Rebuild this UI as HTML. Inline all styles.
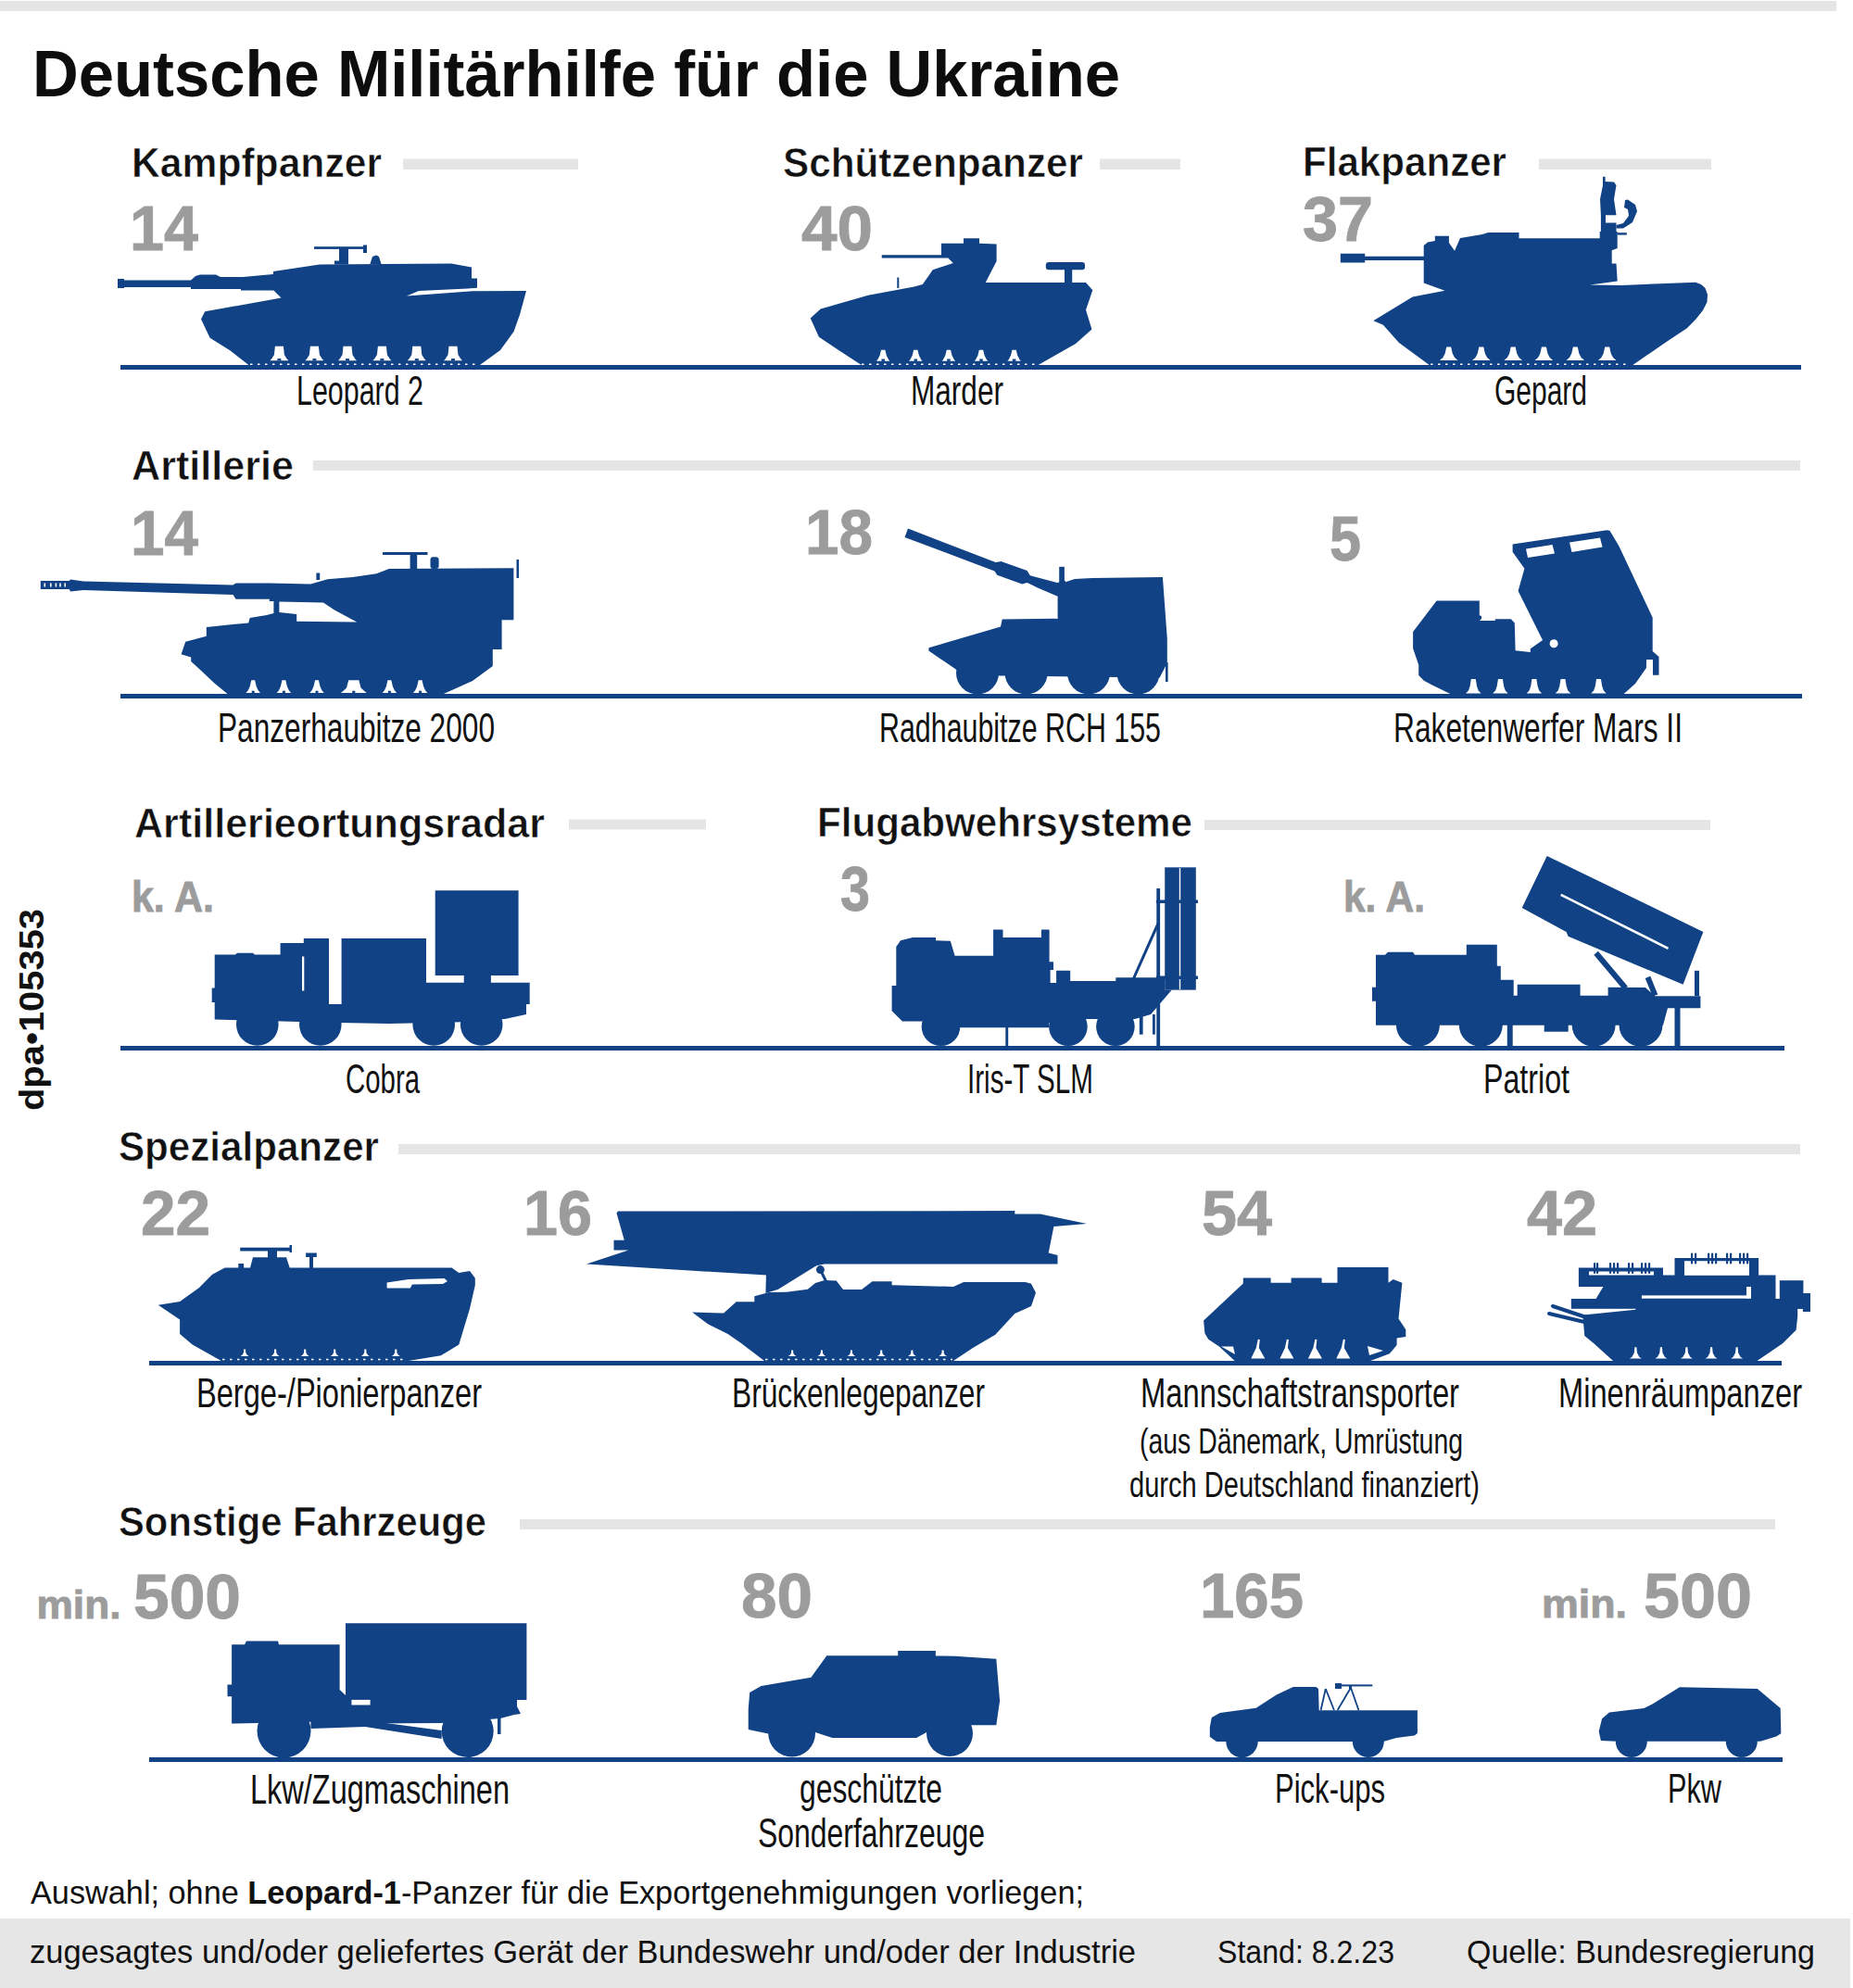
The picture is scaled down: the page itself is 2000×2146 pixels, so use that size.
<!DOCTYPE html>
<html><head><meta charset="utf-8">
<style>
html,body{margin:0;padding:0;background:#fff;}
body{width:2000px;height:2146px;overflow:hidden;}
svg{display:block;}
text{font-family:"Liberation Sans",sans-serif;}
.h{font-weight:bold;font-size:44px;fill:#111;stroke:#fff;stroke-width:0.6px;}
.n{font-weight:bold;font-size:69px;fill:#9c9c9c;stroke:#9c9c9c;stroke-width:0.9px;}
.l{font-size:44px;fill:#111;}
.f{font-size:35px;fill:#111;}
</style></head>
<body>
<svg width="2000" height="2146" viewBox="0 0 2000 2146">
<!-- top bar & footer band -->
<rect x="0" y="1" width="1982" height="11" fill="#e5e5e5"/>
<rect x="0" y="2071" width="1997" height="75" fill="#e6e6e6"/>

<!-- title -->
<text x="35" y="104" font-size="71" font-weight="bold" fill="#0d0d0d" textLength="1174" lengthAdjust="spacingAndGlyphs">Deutsche Militärhilfe für die Ukraine</text>

<!-- section headers -->
<text class="h" x="142" y="191" textLength="270" lengthAdjust="spacingAndGlyphs">Kampfpanzer</text>
<rect x="435" y="171.5" width="189" height="11.5" fill="#e5e5e5"/>
<text class="h" x="845" y="191" textLength="324" lengthAdjust="spacingAndGlyphs">Schützenpanzer</text>
<rect x="1187" y="171.5" width="87" height="11.5" fill="#e5e5e5"/>
<text class="h" x="1406" y="190" textLength="220" lengthAdjust="spacingAndGlyphs">Flakpanzer</text>
<rect x="1661" y="171.5" width="186" height="11.5" fill="#e5e5e5"/>

<text class="h" x="142" y="518" textLength="175" lengthAdjust="spacingAndGlyphs">Artillerie</text>
<rect x="338" y="497" width="1605" height="11" fill="#e5e5e5"/>

<text class="h" x="145" y="904" textLength="443" lengthAdjust="spacingAndGlyphs">Artillerieortungsradar</text>
<rect x="614" y="884.5" width="148" height="11" fill="#e5e5e5"/>
<text class="h" x="882" y="903" textLength="405" lengthAdjust="spacingAndGlyphs">Flugabwehrsysteme</text>
<rect x="1300" y="885" width="546" height="11" fill="#e5e5e5"/>

<text class="h" x="128" y="1253" textLength="281" lengthAdjust="spacingAndGlyphs">Spezialpanzer</text>
<rect x="430" y="1235" width="1513" height="11" fill="#e5e5e5"/>

<text class="h" x="128" y="1658" textLength="397" lengthAdjust="spacingAndGlyphs">Sonstige Fahrzeuge</text>
<rect x="561" y="1640" width="1355" height="11" fill="#e5e5e5"/>

<!-- numbers -->
<text class="n" x="140" y="270" textLength="74" lengthAdjust="spacingAndGlyphs">14</text>
<text class="n" x="865" y="270" textLength="77" lengthAdjust="spacingAndGlyphs">40</text>
<text class="n" x="1406" y="260" textLength="76" lengthAdjust="spacingAndGlyphs">37</text>
<text class="n" x="141" y="599" textLength="73" lengthAdjust="spacingAndGlyphs">14</text>
<text class="n" x="869" y="598" textLength="73" lengthAdjust="spacingAndGlyphs">18</text>
<text class="n" x="1435" y="605" textLength="34" lengthAdjust="spacingAndGlyphs">5</text>
<text class="n" x="142" y="984" style="font-size:47px" textLength="89" lengthAdjust="spacingAndGlyphs">k. A.</text>
<text class="n" x="907" y="983" textLength="32" lengthAdjust="spacingAndGlyphs">3</text>
<text class="n" x="1450" y="984" style="font-size:47px" textLength="88" lengthAdjust="spacingAndGlyphs">k. A.</text>
<text class="n" x="152" y="1333" textLength="75" lengthAdjust="spacingAndGlyphs">22</text>
<text class="n" x="565" y="1333" textLength="74" lengthAdjust="spacingAndGlyphs">16</text>
<text class="n" x="1297" y="1333" textLength="76" lengthAdjust="spacingAndGlyphs">54</text>
<text class="n" x="1648" y="1333" textLength="76" lengthAdjust="spacingAndGlyphs">42</text>
<text class="n" x="39.5" y="1747" style="font-size:43px" textLength="91" lengthAdjust="spacingAndGlyphs">min.</text>
<text class="n" x="144" y="1747" textLength="116" lengthAdjust="spacingAndGlyphs">500</text>
<text class="n" x="800" y="1746" textLength="77" lengthAdjust="spacingAndGlyphs">80</text>
<text class="n" x="1295" y="1746" textLength="112" lengthAdjust="spacingAndGlyphs">165</text>
<text class="n" x="1664" y="1746" style="font-size:43px" textLength="92" lengthAdjust="spacingAndGlyphs">min.</text>
<text class="n" x="1774" y="1746" textLength="117" lengthAdjust="spacingAndGlyphs">500</text>

<!-- labels -->
<text class="l" x="320" y="437" textLength="137" lengthAdjust="spacingAndGlyphs">Leopard 2</text>
<text class="l" x="983" y="437" textLength="100" lengthAdjust="spacingAndGlyphs">Marder</text>
<text class="l" x="1613" y="437" textLength="100" lengthAdjust="spacingAndGlyphs">Gepard</text>
<text class="l" x="235" y="801" textLength="299" lengthAdjust="spacingAndGlyphs">Panzerhaubitze 2000</text>
<text class="l" x="949" y="801" textLength="304" lengthAdjust="spacingAndGlyphs">Radhaubitze RCH 155</text>
<text class="l" x="1504" y="801" textLength="312" lengthAdjust="spacingAndGlyphs">Raketenwerfer Mars II</text>
<text class="l" x="373" y="1180" textLength="80" lengthAdjust="spacingAndGlyphs">Cobra</text>
<text class="l" x="1044" y="1180" textLength="136" lengthAdjust="spacingAndGlyphs">Iris-T SLM</text>
<text class="l" x="1601" y="1180" textLength="93" lengthAdjust="spacingAndGlyphs">Patriot</text>
<text class="l" x="212" y="1519" textLength="308" lengthAdjust="spacingAndGlyphs">Berge-/Pionierpanzer</text>
<text class="l" x="790" y="1519" textLength="273" lengthAdjust="spacingAndGlyphs">Brückenlegepanzer</text>
<text class="l" x="1231" y="1519" textLength="344" lengthAdjust="spacingAndGlyphs">Mannschaftstransporter</text>
<text class="l" x="1230" y="1569" style="font-size:39px" textLength="349" lengthAdjust="spacingAndGlyphs">(aus Dänemark, Umrüstung</text>
<text class="l" x="1219" y="1616" style="font-size:39px" textLength="378" lengthAdjust="spacingAndGlyphs">durch Deutschland finanziert)</text>
<text class="l" x="1682" y="1519" textLength="263" lengthAdjust="spacingAndGlyphs">Minenräumpanzer</text>
<text class="l" x="270" y="1947" textLength="280" lengthAdjust="spacingAndGlyphs">Lkw/Zugmaschinen</text>
<text class="l" x="863" y="1946" textLength="154" lengthAdjust="spacingAndGlyphs">geschützte</text>
<text class="l" x="818" y="1994" textLength="245" lengthAdjust="spacingAndGlyphs">Sonderfahrzeuge</text>
<text class="l" x="1376" y="1946" textLength="119" lengthAdjust="spacingAndGlyphs">Pick-ups</text>
<text class="l" x="1800" y="1946" textLength="58" lengthAdjust="spacingAndGlyphs">Pkw</text>

<!-- footer -->
<text class="f" x="33" y="2055" textLength="1137" lengthAdjust="spacingAndGlyphs">Auswahl; ohne <tspan font-weight="bold">Leopard-1</tspan>-Panzer für die Exportgenehmigungen vorliegen;</text>
<text class="f" x="32" y="2119" textLength="1194" lengthAdjust="spacingAndGlyphs">zugesagtes und/oder geliefertes Gerät der Bundeswehr und/oder der Industrie</text>
<text class="f" x="1314" y="2119" textLength="191" lengthAdjust="spacingAndGlyphs">Stand: 8.2.23</text>
<text class="f" x="1583" y="2119" textLength="376" lengthAdjust="spacingAndGlyphs">Quelle: Bundesregierung</text>

<!-- dpa vertical -->
<text transform="translate(46.5,1199) rotate(-90)" font-size="36" font-weight="bold" fill="#111" textLength="218" lengthAdjust="spacingAndGlyphs">dpa•105353</text>

<!-- ground lines -->
<g fill="#114285">
<rect x="130" y="394" width="1814" height="5"/>
<rect x="130" y="749" width="1815" height="5"/>
<rect x="130" y="1129" width="1796" height="5"/>
<rect x="161" y="1469" width="1762" height="5"/>
<rect x="161" y="1897" width="1763" height="5"/>
</g>

<!-- vehicles -->
<g fill="#114285">
<path d="M127,301 L134,301 L134,302.5 L206,302.5 L211,298 L216,296.5 L233,296.5 L238,299 L262,299 L295,296 L295,293 L345,285.5 L487,284.4 L509,288.5 L509,300.6 L515,300.6 L515,310.7 L505,311.5 L452,314 L439,319.5 L510,314.2 L568,314 L561,339.7 L554.5,358 L540,378 L518,394 L268.4,394 L248.2,378.2 L226.6,364.7 L217,344.4 L221.2,336.3 L303.5,321.5 L295.4,313.4 L260,313.4 L260,312 L206,312 L206,310 L134,310 L134,311 L127,311 Z"/>
<rect x="339" y="266.2" width="56" height="2.7"/>
<rect x="392" y="264.5" width="4" height="8.5"/>
<rect x="366" y="268" width="10" height="17"/>
<rect x="361" y="281.5" width="15" height="4"/>
<path d="M399.4,285 L402,277 L406,275.6 L409,277 L411.5,285 Z"/>
<path d="M296.9,373.7 L295.9,383.06 L293.4,386.96 L291.4,389.3 L311.4,389.3 L309.4,386.96 L306.9,383.06 L305.9,373.7 Z" fill="#fff"/>
<rect x="299.4" y="387.1" width="4" height="2.4"/>
<path d="M334.9,373.7 L333.9,383.06 L331.4,386.96 L329.4,389.3 L349.4,389.3 L347.4,386.96 L344.9,383.06 L343.9,373.7 Z" fill="#fff"/>
<rect x="337.4" y="387.1" width="4" height="2.4"/>
<path d="M370.5,373.7 L369.5,383.06 L367,386.96 L365,389.3 L385,389.3 L383,386.96 L380.5,383.06 L379.5,373.7 Z" fill="#fff"/>
<rect x="373" y="387.1" width="4" height="2.4"/>
<path d="M407.9,373.7 L406.9,383.06 L404.4,386.96 L402.4,389.3 L422.4,389.3 L420.4,386.96 L417.9,383.06 L416.9,373.7 Z" fill="#fff"/>
<rect x="410.4" y="387.1" width="4" height="2.4"/>
<path d="M445.3,373.7 L444.3,383.06 L441.8,386.96 L439.8,389.3 L459.8,389.3 L457.8,386.96 L455.3,383.06 L454.3,373.7 Z" fill="#fff"/>
<rect x="447.8" y="387.1" width="4" height="2.4"/>
<path d="M484.5,373.7 L483.5,383.06 L481,386.96 L479,389.3 L499,389.3 L497,386.96 L494.5,383.06 L493.5,373.7 Z" fill="#fff"/>
<rect x="487" y="387.1" width="4" height="2.4"/>
<line x1="270" y1="393.3" x2="516" y2="393.3" stroke="#fff" stroke-width="1.6" stroke-dasharray="2.5 5.5"/>
<path d="M951.7,275.3 L1016,275.3 L1016,262.8 L1040,262.8 L1040,257.3 L1057,257.3 L1057,262.8 L1075.6,263.5 L1075.6,282 L1063.7,305 L1172,305 L1179.3,313.3 L1172,334.4 L1178.4,355.5 L1161,371 L1120.6,394 L929.7,394 L905.9,378.4 L883.9,363.8 L874.7,343.6 L885.7,333.5 L937,318.8 L986.6,309.6 L995.8,306.9 L1006.8,291.3 L1028.8,284 L1023.3,278.4 L951.7,278.4 Z"/>
<rect x="968.3" y="299.5" width="2" height="11.5"/>
<rect x="1128.8" y="283" width="42.2" height="8.3" rx="3"/>
<rect x="1149" y="290" width="8.2" height="16"/>
<path d="M951.025,377.8 L949.575,383.75 L947.4,387.915 L945.95,389.7 L960.45,389.7 L959,387.915 L956.825,383.75 L955.375,377.8 Z" fill="#fff"/>
<rect x="951.45" y="387.5" width="3.5" height="2.4"/>
<path d="M986.125,377.8 L984.675,383.75 L982.5,387.915 L981.05,389.7 L995.55,389.7 L994.1,387.915 L991.925,383.75 L990.475,377.8 Z" fill="#fff"/>
<rect x="986.55" y="387.5" width="3.5" height="2.4"/>
<path d="M1021.73,377.8 L1020.27,383.75 L1018.1,387.915 L1016.65,389.7 L1031.15,389.7 L1029.7,387.915 L1027.53,383.75 L1026.08,377.8 Z" fill="#fff"/>
<rect x="1022.15" y="387.5" width="3.5" height="2.4"/>
<path d="M1056.83,377.8 L1055.38,383.75 L1053.2,387.915 L1051.75,389.7 L1066.25,389.7 L1064.8,387.915 L1062.62,383.75 L1061.17,377.8 Z" fill="#fff"/>
<rect x="1057.25" y="387.5" width="3.5" height="2.4"/>
<path d="M1092.42,377.8 L1090.97,383.75 L1088.8,387.915 L1087.35,389.7 L1101.85,389.7 L1100.4,387.915 L1098.22,383.75 L1096.77,377.8 Z" fill="#fff"/>
<rect x="1092.85" y="387.5" width="3.5" height="2.4"/>
<line x1="930" y1="393.3" x2="1120" y2="393.3" stroke="#fff" stroke-width="1.6" stroke-dasharray="2.5 5.5"/>
<path d="M1446.8,273.7 L1473.2,273.7 L1473.2,276.7 L1536.7,276.7 L1536.7,265 L1541,261.6 L1548.8,260 L1548.8,254.8 L1563.9,254.8 L1563.9,262 L1570,270.7 L1576,257 L1600,253 L1606.2,251 L1639.5,251 L1639.5,257.2 L1726.7,257.2 L1726.7,250 L1745.7,250 L1745.7,267.9 L1739.7,270.2 L1739.7,284.5 L1744.5,284.5 L1745.7,303.5 L1716,307.4 L1750.4,308 L1830,304.7 L1836,307 L1840.5,311 L1843,318 L1842.5,326 L1838,335 L1830,345 L1820.5,354.5 L1799,368.8 L1762.3,394 L1542.7,394 L1510,370 L1492.9,350.7 L1482.3,346.2 L1524.6,320.5 L1559.4,313.7 L1536.7,305.4 L1536.7,281 L1473.2,281 L1473.2,283.5 L1446.8,283.5 Z"/>
<path d="M1730,190.7 L1732.6,190.7 L1732.6,196 L1742,196.6 L1744.5,200 L1742,215 L1744.5,232.2 L1733,232.2 L1733,240.5 L1744.5,240.5 L1744.5,250 L1727.9,250 L1727.9,232 L1727,215 L1730,200 Z"/>
<path d="M1754,216 L1757,215.6 L1765,221 L1767,228 L1762,240 L1752,246.5 L1744.5,246.5 L1744.5,243 L1752,241 L1758,233 L1757,226 L1753,224 Z"/>
<rect x="1745.7" y="251.2" width="10.1" height="2.4"/>
<path d="M1561.26,374.4 L1559.61,381.65 L1557.36,386 L1553.95,388.9 L1573.45,388.9 L1570.04,386 L1567.8,381.65 L1566.14,374.4 Z" fill="#fff"/>
<path d="M1596.36,374.4 L1594.7,381.65 L1592.46,386 L1589.05,388.9 L1608.55,388.9 L1605.14,386 L1602.89,381.65 L1601.24,374.4 Z" fill="#fff"/>
<path d="M1630.76,374.4 L1629.11,381.65 L1626.86,386 L1623.45,388.9 L1642.95,388.9 L1639.54,386 L1637.3,381.65 L1635.64,374.4 Z" fill="#fff"/>
<path d="M1663.96,374.4 L1662.31,381.65 L1660.06,386 L1656.65,388.9 L1676.15,388.9 L1672.74,386 L1670.5,381.65 L1668.84,374.4 Z" fill="#fff"/>
<path d="M1697.86,374.4 L1696.2,381.65 L1693.96,386 L1690.55,388.9 L1710.05,388.9 L1706.64,386 L1704.39,381.65 L1702.74,374.4 Z" fill="#fff"/>
<path d="M1732.26,374.4 L1730.61,381.65 L1728.36,386 L1724.95,388.9 L1744.45,388.9 L1741.04,386 L1738.8,381.65 L1737.14,374.4 Z" fill="#fff"/>
<line x1="1544" y1="393.3" x2="1760" y2="393.3" stroke="#fff" stroke-width="1.6" stroke-dasharray="2.5 5.5"/>
<path d="M43.8,627 L74.8,627 L76,625.5 L90,627.5 L251.5,631.6 L254.6,629.6 L290.8,629.6 L335.3,630.6 L353.5,625.3 L380.7,623 L406.3,619.3 L420,614 L554.4,613.2 L554.4,669.2 L541.6,669.2 L541.6,700.9 L531.8,700.9 L531.8,719 L510,735 L478.9,749 L245.5,749 L232,738 L215,722 L206.2,713.9 L206.2,709.4 L195.6,706.3 L200.2,692.7 L222.8,686.7 L222.8,676.9 L268.2,672.4 L269.7,667 L287.8,664 L295.4,662 L295.4,649 L290.8,649 L290.8,646.7 L254.6,646.7 L251.5,642.1 L90,637 L76,638.4 L74.8,636.1 L43.8,636.1 Z"/>
<path d="M301.4,649.5 L349,650.5 L361,658.6 L385.2,671.4 L320.2,670.7 L320.2,663.1 L301.4,661 Z" fill="#fff"/>
<rect x="47.5" y="629.5" width="1.6" height="4" fill="#fff"/>
<rect x="54" y="629.5" width="1.6" height="4" fill="#fff"/>
<rect x="59.6" y="629.5" width="1.6" height="4" fill="#fff"/>
<rect x="64.2" y="629.5" width="1.6" height="4" fill="#fff"/>
<rect x="69.4" y="629.5" width="1.6" height="4" fill="#fff"/>
<rect x="413" y="596" width="48.5" height="3"/>
<rect x="442.6" y="598" width="7.6" height="16"/>
<rect x="464.5" y="601.2" width="9.1" height="12.8" rx="3"/>
<rect x="341.4" y="618.5" width="3.8" height="7.5"/>
<rect x="557.5" y="604" width="2.5" height="20"/>
<path d="M271.262,734.2 L269.712,741.05 L267.775,745.16 L265.45,747.9 L280.95,747.9 L278.625,745.16 L276.688,741.05 L275.137,734.2 Z" fill="#fff"/>
<rect x="271.7" y="745.7" width="3" height="2.4"/>
<path d="M304.462,734.2 L302.912,741.05 L300.975,745.16 L298.65,747.9 L314.15,747.9 L311.825,745.16 L309.887,741.05 L308.337,734.2 Z" fill="#fff"/>
<rect x="304.9" y="745.7" width="3" height="2.4"/>
<path d="M340.062,734.2 L338.512,741.05 L336.575,745.16 L334.25,747.9 L349.75,747.9 L347.425,745.16 L345.488,741.05 L343.938,734.2 Z" fill="#fff"/>
<rect x="340.5" y="745.7" width="3" height="2.4"/>
<path d="M376.2,734.2 L374.1,742.42 L370.6,745.845 L367.8,747.9 L395.8,747.9 L393,745.845 L389.5,742.42 L387.4,734.2 Z" fill="#fff"/>
<rect x="380.3" y="745.7" width="3" height="2.4"/>
<path d="M418.462,734.2 L416.912,741.05 L414.975,745.16 L412.65,747.9 L428.15,747.9 L425.825,745.16 L423.887,741.05 L422.337,734.2 Z" fill="#fff"/>
<rect x="418.9" y="745.7" width="3" height="2.4"/>
<path d="M451.663,734.2 L450.113,741.05 L448.175,745.16 L445.85,747.9 L461.35,747.9 L459.025,745.16 L457.088,741.05 L455.538,734.2 Z" fill="#fff"/>
<rect x="452.1" y="745.7" width="3" height="2.4"/>
<path d="M980,570.5 L1074.6,607 L1080.5,605.9 L1108.6,615.9 L1111.8,621.3 L1141,628.9 L1150,627 L1150,645 L1141,643.4 L1119.4,634.3 L1114,631.6 L1108.6,628.9 L1103.2,630.5 L1076.2,620.8 L1073.5,616.4 L976.5,580 Z"/>
<path d="M1141.6,631 L1160,625 L1178.8,624 L1254.9,623.1 L1259.8,689.5 L1259.8,715.4 L1251.7,731.6 L1041.2,729 L1002.4,702.5 L1002.4,699.2 L1080,676.6 L1081.7,668.5 L1138.4,667.7 L1141.6,668 Z"/>
<rect x="1143.2" y="611.8" width="5.7" height="20.2"/>
<circle cx="1055" cy="726.5" r="23"/>
<circle cx="1107.6" cy="726.5" r="23"/>
<circle cx="1175" cy="726.5" r="23"/>
<circle cx="1228.5" cy="726.5" r="23"/>
<rect x="1258" y="715" width="2.6" height="21"/>
<path d="M1550.6,648.5 L1596.8,648.5 L1596.8,664.3 L1599,665 L1599,668 L1596.8,670 L1613.8,670 L1613.8,668.3 L1630.8,668.3 L1634.8,672.4 L1635.6,702.3 L1651.8,704 L1651.8,700.3 L1665,691 L1638.6,638 L1645.4,613.8 L1632.6,595.7 L1632.6,587.4 L1734.6,572.3 L1737.6,573 L1747.4,589.6 L1783.7,666.7 L1783.7,703 L1790.5,709 L1790.5,728.7 L1784,728.7 L1784,712 L1777,712 L1776.9,721.1 L1765,738 L1752.7,749 L1565.3,749 L1545.8,739.6 L1536.9,734.7 L1531.2,729 L1531.2,717.7 L1525.1,700 L1525.1,682.1 Z"/>
<path d="M1647,592.5 L1675.5,588 L1678,597.5 L1649,602 Z" fill="#fff"/>
<path d="M1694,585.5 L1727,580.5 L1729.5,590.5 L1696.5,596 Z" fill="#fff"/>
<circle cx="1677.1" cy="694.7" r="4.5" fill="#fff"/>
<path d="M1587.83,733.1 L1586.59,740.8 L1584.94,745.42 L1582.05,748.5 L1598.55,748.5 L1595.66,745.42 L1594.01,740.8 L1592.77,733.1 Z" fill="#fff"/>
<path d="M1616.93,733.1 L1615.69,740.8 L1614.04,745.42 L1611.15,748.5 L1627.65,748.5 L1624.76,745.42 L1623.11,740.8 L1621.88,733.1 Z" fill="#fff"/>
<path d="M1653.43,733.1 L1652.19,740.8 L1650.54,745.42 L1647.65,748.5 L1664.15,748.5 L1661.26,745.42 L1659.61,740.8 L1658.38,733.1 Z" fill="#fff"/>
<path d="M1684.53,733.1 L1683.29,740.8 L1681.64,745.42 L1678.75,748.5 L1695.25,748.5 L1692.36,745.42 L1690.71,740.8 L1689.47,733.1 Z" fill="#fff"/>
<path d="M1723.03,733.1 L1721.79,740.8 L1720.14,745.42 L1717.25,748.5 L1733.75,748.5 L1730.86,745.42 L1729.21,740.8 L1727.97,733.1 Z" fill="#fff"/>
<path d="M231.7,1030.6 L254,1030.6 L256,1028.7 L273,1028.7 L275,1030.6 L302.6,1030.6 L302.6,1018 L327.8,1018 L327.8,1013.1 L355,1013.1 L355,1084 L368.6,1084 L368.6,1013.1 L460,1013.1 L460,1060.7 L500.7,1060.7 L500.7,1053 L469.7,1053 L469.7,961.3 L559.6,961.3 L559.6,1053 L529.9,1053 L529.9,1060.7 L571.7,1060.7 L571.7,1084 L568,1084 L568,1095 L545,1100 L510,1103 L420,1105 L340,1103.5 L250,1101 L231.7,1100.6 L231.7,1082 L228.7,1082 L228.7,1066.6 L231.7,1066.6 Z"/>
<circle cx="277.8" cy="1106" r="22.8"/>
<circle cx="345.8" cy="1106" r="22.8"/>
<circle cx="468.2" cy="1106" r="22.8"/>
<circle cx="519.7" cy="1106" r="22.8"/>
<rect x="326" y="1032.5" width="2.3" height="37" fill="#fff"/>
<path d="M967.3,1022 L972,1015.3 L985,1011.9 L1010,1011.9 L1010,1015.3 L1025.8,1015.7 L1030.6,1031.7 L1072.1,1031.7 L1072.1,1003.4 L1082.5,1003.4 L1082.5,1011.9 L1124,1011.9 L1124,1003.4 L1132.6,1003.4 L1132.6,1038.3 L1137,1038.3 L1137,1047 L1133.6,1047 L1133.6,1061 L1140.1,1061 L1140.1,1047.8 L1155.2,1047.8 L1155.2,1059.1 L1204.3,1059.1 L1204.3,1055.3 L1257.2,1055.3 L1257.2,1068.6 L1264.8,1068.6 L1242.1,1095 L1225,1100 L1173,1100 L1132,1104 L1132,1109.2 L1036,1109.2 L1000,1102.6 L973.9,1102.6 L962.6,1091.2 L962.6,1064 L967.3,1064 Z"/>
<rect x="1257.2" y="936.3" width="33.6" height="132.3"/>
<rect x="1272.8" y="937" width="1.4" height="131" fill="#fff"/>
<rect x="1248" y="971.5" width="45" height="3.5"/>
<rect x="1248" y="1053.5" width="45" height="3.5"/>
<rect x="1248.3" y="959" width="3.8" height="170"/>
<line x1="1223.2" y1="1057" x2="1250" y2="996.8" stroke="#114285" stroke-width="3" stroke-linecap="butt"/>
<rect x="1229.8" y="1095" width="3.8" height="21.7"/>
<rect x="1244" y="1095" width="2.8" height="21.7"/>
<rect x="1085.3" y="1105" width="2.9" height="24"/>
<circle cx="1015.5" cy="1108.2" r="20.8"/>
<circle cx="1152.9" cy="1108.2" r="20.8"/>
<circle cx="1203.9" cy="1108.2" r="20.8"/>
<path d="M1669.7,924 L1838.4,1005.9 L1816.6,1062.7 L1692.6,1010.8 L1690.6,1005.9 L1642.7,979.9 Z"/>
<line x1="1684.7" y1="965.9" x2="1800.5" y2="1023.8" stroke="#fff" stroke-width="2.6" stroke-linecap="butt"/>
<line x1="1722.6" y1="1028.8" x2="1754.6" y2="1066.8" stroke="#114285" stroke-width="6" stroke-linecap="butt"/>
<line x1="1778.5" y1="1054.8" x2="1786.5" y2="1074.7" stroke="#114285" stroke-width="6" stroke-linecap="butt"/>
<path d="M1485,1030.8 L1495,1030.8 L1498,1027.8 L1525,1027.8 L1527,1030.8 L1582.8,1030.8 L1582.8,1019.8 L1615.8,1019.8 L1615.8,1042.8 L1619.8,1042.8 L1619.8,1057.8 L1633.7,1057.8 L1633.7,1074.7 L1637.7,1074.7 L1637.7,1062.8 L1705.6,1062.8 L1705.6,1074.7 L1735.6,1074.7 L1735.6,1065.8 L1776,1066 L1786,1075.2 L1835.4,1075.2 L1835.4,1088.3 L1800,1088.3 L1795,1106.7 L1485,1106.7 L1485,1080.7 L1481,1080.7 L1481,1065.8 L1485,1065.8 Z"/>
<rect x="1829" y="1047.8" width="5" height="27.2"/>
<rect x="1626.8" y="1100" width="5.9" height="29"/>
<rect x="1807.5" y="1088" width="6" height="41"/>
<rect x="1666.7" y="1100" width="26" height="13.7"/>
<circle cx="1530.4" cy="1106.2" r="23.5"/>
<circle cx="1598.3" cy="1106.2" r="23.5"/>
<circle cx="1720.1" cy="1106.2" r="23.5"/>
<circle cx="1771" cy="1106.2" r="23.5"/>
<path d="M170.8,1408.8 L194.1,1405 L215,1390 L229.1,1375.8 L242.7,1368.4 L257.3,1368.4 L257.3,1364 L263.1,1364 L263.1,1368.4 L270,1368.4 L273,1357.3 L309,1357.3 L312.7,1368.4 L334,1368.4 L334,1357 L330.1,1357 L330.1,1352.5 L341.8,1352.5 L341.8,1357 L338,1357 L338,1368.4 L487.5,1368.4 L495.3,1373.9 L507,1371.9 L512.8,1379.7 L512.8,1387.5 L507,1412.7 L495.3,1451.6 L475.9,1463.2 L440.9,1469 L238.8,1469 L207.7,1451.6 L194.1,1440 L194.1,1424.4 Z"/>
<rect x="259.2" y="1346.7" width="55.4" height="3.8"/>
<rect x="312.5" y="1344" width="2.5" height="8"/>
<rect x="289" y="1349" width="10" height="9"/>
<path d="M417.6,1384.5 L440.9,1381 L479.7,1380 L483,1383 L478,1386 L445,1386.5 L442.8,1390.4 L417.6,1390.4 Z" fill="#fff"/>
<path d="M263.1,1456.4 L262.975,1460.2 L261.4,1462.86 L259.6,1464 L268.6,1464 L266.8,1462.86 L265.225,1460.2 L265.1,1456.4 Z" fill="#fff"/>
<path d="M296.1,1456.4 L295.975,1460.2 L294.4,1462.86 L292.6,1464 L301.6,1464 L299.8,1462.86 L298.225,1460.2 L298.1,1456.4 Z" fill="#fff"/>
<path d="M328.2,1456.4 L328.075,1460.2 L326.5,1462.86 L324.7,1464 L333.7,1464 L331.9,1462.86 L330.325,1460.2 L330.2,1456.4 Z" fill="#fff"/>
<path d="M360.2,1456.4 L360.075,1460.2 L358.5,1462.86 L356.7,1464 L365.7,1464 L363.9,1462.86 L362.325,1460.2 L362.2,1456.4 Z" fill="#fff"/>
<path d="M393.3,1456.4 L393.175,1460.2 L391.6,1462.86 L389.8,1464 L398.8,1464 L397,1462.86 L395.425,1460.2 L395.3,1456.4 Z" fill="#fff"/>
<path d="M426.3,1456.4 L426.175,1460.2 L424.6,1462.86 L422.8,1464 L431.8,1464 L430,1462.86 L428.425,1460.2 L428.3,1456.4 Z" fill="#fff"/>
<line x1="240" y1="1467.5" x2="440" y2="1467.5" stroke="#fff" stroke-width="1.6" stroke-dasharray="2.5 5.5"/>
<path d="M665.5,1309.4 L667,1307.5 L1095.3,1307.1 L1095.3,1310.4 L1122.8,1310.4 L1173,1320.9 L1137.4,1324.1 L1131.7,1352.5 L1141.5,1354.9 L1141.5,1364.6 L890,1364.6 L828,1376.6 L633,1364.5 L678.4,1349.4 L662.5,1349.4 L662.5,1338.8 L673.8,1338.8 Z"/>
<path d="M827,1373 L888,1362 L840,1391.7 L826.4,1396 Z"/>
<circle cx="885.4" cy="1370.6" r="4.5"/>
<line x1="886" y1="1372" x2="895" y2="1390" stroke="#114285" stroke-width="3" stroke-linecap="butt"/>
<path d="M814.3,1399.3 L830,1395 L849,1394.7 L871.8,1391.7 L880,1385 L890,1382 L902.7,1382.4 L910,1392 L930,1392 L941.5,1383.2 L962.6,1383.2 L962.6,1387.3 L1029,1388.9 L1040,1384 L1106.7,1384 L1113,1385.7 L1118,1395.4 L1113,1410 L1095.3,1418 L1074.3,1440.7 L1050,1455 L1029,1469 L824.9,1469 L800,1450 L785.6,1440.1 L764.5,1429.5 L747.1,1416.6 L781.1,1417.4 L794.7,1405.3 L814.3,1405.3 Z"/>
<path d="M854.1,1457.5 L853.975,1460.75 L852.4,1463.03 L850.6,1464 L859.6,1464 L857.8,1463.03 L856.225,1460.75 L856.1,1457.5 Z" fill="#fff"/>
<path d="M885.9,1457.5 L885.775,1460.75 L884.2,1463.03 L882.4,1464 L891.4,1464 L889.6,1463.03 L888.025,1460.75 L887.9,1457.5 Z" fill="#fff"/>
<path d="M917.9,1457.5 L917.775,1460.75 L916.2,1463.03 L914.4,1464 L923.4,1464 L921.6,1463.03 L920.025,1460.75 L919.9,1457.5 Z" fill="#fff"/>
<path d="M950.2,1457.5 L950.075,1460.75 L948.5,1463.03 L946.7,1464 L955.7,1464 L953.9,1463.03 L952.325,1460.75 L952.2,1457.5 Z" fill="#fff"/>
<path d="M983.4,1457.5 L983.275,1460.75 L981.7,1463.03 L979.9,1464 L988.9,1464 L987.1,1463.03 L985.525,1460.75 L985.4,1457.5 Z" fill="#fff"/>
<path d="M1016.6,1457.5 L1016.48,1460.75 L1014.9,1463.03 L1013.1,1464 L1022.1,1464 L1020.3,1463.03 L1018.73,1460.75 L1018.6,1457.5 Z" fill="#fff"/>
<line x1="826" y1="1467.5" x2="1028" y2="1467.5" stroke="#fff" stroke-width="1.6" stroke-dasharray="2.5 5.5"/>
<path d="M1299.1,1425.6 L1341.8,1385.4 L1341.8,1379.6 L1371.6,1379.6 L1371.6,1384.8 L1393.6,1384.8 L1393.6,1379.6 L1426.6,1379.6 L1426.6,1384.8 L1443.5,1384.8 L1443.5,1368 L1498.5,1368 L1498.5,1384.8 L1503.7,1380.9 L1513.4,1384.8 L1509.5,1423.6 L1517.3,1435.3 L1517.3,1443.1 L1507.6,1444.4 L1507.6,1452.1 L1499.8,1461.2 L1479.1,1469 L1332.7,1469 L1315.9,1453.4 L1304.2,1445.7 L1300.4,1439.2 Z"/>
<path d="M1357.8,1445.7 L1359.8,1446 L1358.8,1455 L1365.3,1466.5 L1350.3,1466.5 L1355.8,1455 Z" fill="#fff"/>
<path d="M1388.9,1445.7 L1390.9,1446 L1389.9,1455 L1396.4,1466.5 L1381.4,1466.5 L1386.9,1455 Z" fill="#fff"/>
<path d="M1419.4,1445.7 L1421.4,1446 L1420.4,1455 L1426.9,1466.5 L1411.9,1466.5 L1417.4,1455 Z" fill="#fff"/>
<path d="M1449.8,1445.7 L1451.8,1446 L1450.8,1455 L1457.3,1466.5 L1442.3,1466.5 L1447.8,1455 Z" fill="#fff"/>
<path d="M1318,1453.5 L1331,1453.5 L1333,1462 Z" fill="#fff"/>
<path d="M1476,1453 L1493,1458 L1478,1463 Z" fill="#fff"/>
<path d="M1708.7,1419.5 L1765.4,1413.8 L1765.4,1411 L1940.2,1411 L1940.2,1421 L1938.6,1435.7 L1924,1450.2 L1896.5,1469 L1741.1,1469 L1720,1450 L1710.3,1442.1 L1708.7,1424.3 Z"/>
<line x1="1672" y1="1418" x2="1710" y2="1427" stroke="#114285" stroke-width="4" stroke-linecap="round"/>
<line x1="1676" y1="1410" x2="1712" y2="1422" stroke="#114285" stroke-width="4" stroke-linecap="round"/>
<rect x="1695.8" y="1402" width="258.2" height="10.8"/>
<rect x="1703.9" y="1376.5" width="199.1" height="12.5"/>
<rect x="1703.9" y="1368.5" width="91.1" height="8.5"/>
<rect x="1715" y="1372.5" width="70" height="4" fill="#fff"/>
<rect x="1807.5" y="1358" width="90.6" height="19"/>
<rect x="1818" y="1361.2" width="70" height="15.6" fill="#fff"/>
<path d="M1722,1403 L1731,1388 L1916,1388 L1916,1403 Z"/>
<rect x="1771.9" y="1398.4" width="116.5" height="3.3" fill="#fff"/>
<rect x="1885" y="1389" width="5" height="12.7" fill="#fff"/>
<rect x="1902.5" y="1376.5" width="14" height="26.5"/>
<rect x="1920.8" y="1382.2" width="25.6" height="30.6"/>
<rect x="1945.9" y="1396" width="8.1" height="20"/>
<rect x="1720" y="1363" width="2.2" height="12" rx="1"/>
<rect x="1723" y="1363" width="2.2" height="12" rx="1"/>
<rect x="1737" y="1363" width="2.2" height="12" rx="1"/>
<rect x="1741" y="1363" width="2.2" height="12" rx="1"/>
<rect x="1745" y="1363" width="2.2" height="12" rx="1"/>
<rect x="1757" y="1363" width="2.2" height="12" rx="1"/>
<rect x="1761" y="1363" width="2.2" height="12" rx="1"/>
<rect x="1771" y="1363" width="2.2" height="12" rx="1"/>
<rect x="1775" y="1363" width="2.2" height="12" rx="1"/>
<rect x="1779" y="1363" width="2.2" height="12" rx="1"/>
<rect x="1825" y="1352.5" width="2.2" height="12" rx="1"/>
<rect x="1829" y="1352.5" width="2.2" height="12" rx="1"/>
<rect x="1843" y="1352.5" width="2.2" height="12" rx="1"/>
<rect x="1847" y="1352.5" width="2.2" height="12" rx="1"/>
<rect x="1851" y="1352.5" width="2.2" height="12" rx="1"/>
<rect x="1863" y="1352.5" width="2.2" height="12" rx="1"/>
<rect x="1867" y="1352.5" width="2.2" height="12" rx="1"/>
<rect x="1877" y="1352.5" width="2.2" height="12" rx="1"/>
<rect x="1881" y="1352.5" width="2.2" height="12" rx="1"/>
<rect x="1885" y="1352.5" width="2.2" height="12" rx="1"/>
<path d="M1764.4,1454.3 L1763.78,1460.4 L1761.5,1464.67 L1758.9,1466.5 L1771.9,1466.5 L1769.3,1464.67 L1767.03,1460.4 L1766.4,1454.3 Z" fill="#fff"/>
<path d="M1791.9,1454.3 L1791.28,1460.4 L1789,1464.67 L1786.4,1466.5 L1799.4,1466.5 L1796.8,1464.67 L1794.53,1460.4 L1793.9,1454.3 Z" fill="#fff"/>
<path d="M1819.4,1454.3 L1818.78,1460.4 L1816.5,1464.67 L1813.9,1466.5 L1826.9,1466.5 L1824.3,1464.67 L1822.03,1460.4 L1821.4,1454.3 Z" fill="#fff"/>
<path d="M1846.1,1454.3 L1845.47,1460.4 L1843.2,1464.67 L1840.6,1466.5 L1853.6,1466.5 L1851,1464.67 L1848.72,1460.4 L1848.1,1454.3 Z" fill="#fff"/>
<path d="M1873.6,1454.3 L1872.97,1460.4 L1870.7,1464.67 L1868.1,1466.5 L1881.1,1466.5 L1878.5,1464.67 L1876.22,1460.4 L1875.6,1454.3 Z" fill="#fff"/>
<path d="M250.1,1775.3 L264,1775.3 L266,1771.6 L300,1771.6 L301,1775.3 L366.6,1775.3 L366.6,1823.9 L373,1830 L373,1752.3 L568.4,1752.3 L568.4,1834.9 L558,1834.9 L558,1842 L562,1850 L555,1851 L540,1855 L476.7,1860 L394.1,1860.6 L335.4,1858.8 L250.1,1860.6 L250.1,1831.2 L245.5,1831.2 L245.5,1818.4 L250.1,1818.4 Z"/>
<path d="M335.4,1858 L394.1,1857 L476.7,1868 L476.7,1877 L394.1,1864 L335.4,1866 Z"/>
<rect x="379.4" y="1834.9" width="20.2" height="5.6" fill="#fff"/>
<circle cx="306.5" cy="1868.5" r="29"/>
<circle cx="504.7" cy="1869" r="28"/>
<rect x="537" y="1855" width="3.5" height="17"/>
<path d="M892.3,1787.2 L969.2,1787.2 L969.2,1782 L1009.9,1782 L1009.9,1787.5 L1030.7,1787.7 L1075.3,1790.8 L1079.1,1836.1 L1075.3,1862.3 L1046,1862.3 L1000,1870 L989.2,1876.1 L898.4,1876.1 L880,1870 L829.2,1871.5 L807.7,1866.9 L807.7,1845 L809.2,1826.9 L821.5,1820 L875.4,1810.8 Z"/>
<circle cx="854.6" cy="1871" r="25.4"/>
<circle cx="1025" cy="1871" r="25"/>
<path d="M1395.8,1821 L1420.4,1821 L1423,1823 L1423.7,1846.3 L1529.9,1846.3 L1529.9,1870.9 L1526.7,1873.5 L1507.2,1876 L1493,1880 L1313,1880 L1305.8,1874.8 L1305.8,1864.4 L1307.8,1854 L1316.8,1848.9 L1355.7,1843.7 L1377.7,1829.4 Z"/>
<rect x="1441" y="1818.4" width="40.3" height="2"/>
<rect x="1441" y="1817" width="7" height="6"/>
<line x1="1425.6" y1="1846" x2="1430.8" y2="1823" stroke="#114285" stroke-width="1.8" stroke-linecap="butt"/>
<line x1="1430.8" y1="1823" x2="1439.9" y2="1846" stroke="#114285" stroke-width="1.8" stroke-linecap="butt"/>
<line x1="1443.7" y1="1846" x2="1458" y2="1821.7" stroke="#114285" stroke-width="1.8" stroke-linecap="butt"/>
<line x1="1458" y1="1821.7" x2="1466.4" y2="1846" stroke="#114285" stroke-width="1.8" stroke-linecap="butt"/>
<rect x="1456" y="1819" width="3" height="4"/>
<circle cx="1340.5" cy="1880" r="17.2"/>
<circle cx="1476.8" cy="1880" r="17"/>
<path d="M1812.9,1821.3 L1896.8,1823 L1921.7,1844 L1922.3,1871.2 L1917.2,1874.6 L1900,1879.7 L1744.9,1879.7 L1727.9,1879.1 L1725.7,1868.9 L1729.1,1855.3 L1737,1848.5 L1774.4,1844 L1783.5,1839.5 Z"/>
<circle cx="1760.8" cy="1880" r="17"/>
<circle cx="1879.8" cy="1880" r="17"/>
</g>
</svg>
</body></html>
